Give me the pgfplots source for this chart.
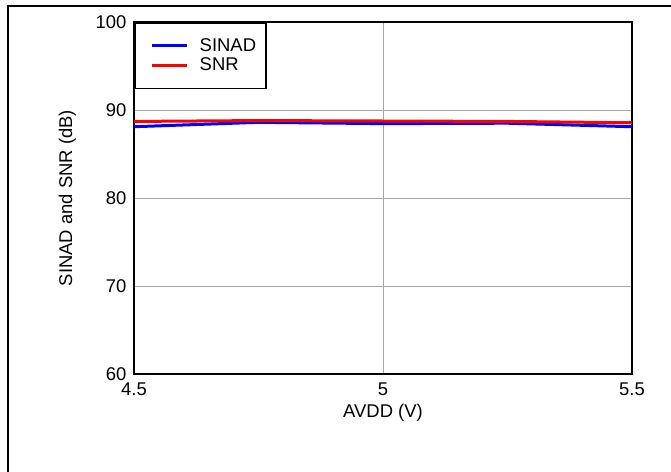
\documentclass[border=0pt]{standalone}
\usepackage{pgfplots}
\pgfplotsset{compat=1.18}
\usepackage{fontspec}
\setmainfont{Liberation Sans}

\newcommand{\chartfont}{\fontsize{18.5}{21}\selectfont}

\begin{document}
\begin{tikzpicture}[x=1bp,y=1bp]
    \useasboundingbox (0,0) rectangle (671,-472);
    % outer frame (right and bottom edges lie outside the page)
    \draw[line width=1.2bp] (8,-490) -- (8,-6) -- (690,-6);

    \begin{axis}[
        at={(134bp,-374bp)},
        anchor=south west,
        scale only axis,
        width=498bp,
        height=352bp,
        xmin=4.5, xmax=5.5,
        ymin=60, ymax=100,
        xtick={4.5,5,5.5},
        xticklabels={4.5,5,5.5},
        ytick={60,70,80,90,100},
        major tick length=0pt,
        grid=major,
        major grid style={color=black!35, line width=0.9bp},
        axis line style={line width=2.5bp},
        ticklabel style={font=\chartfont},
        /pgf/number format/assume math mode=true,
        xticklabel style={yshift=-5bp},
        yticklabel style={xshift=-4bp},
        label style={font=\chartfont},
        xlabel={AVDD (V)},
        ylabel={SINAD and SNR (dB)},
        xlabel style={yshift=-2bp},
        ylabel style={yshift=13bp},
        legend cell align=left,
        legend style={
            at={(0,1)}, anchor=north west,
            draw=black, line width=1.5bp,
            font=\chartfont,
            inner xsep=8bp, inner ysep=14bp,
            row sep=1bp,
        },
        legend image code/.code={
            \path[draw=none] (0bp,0bp) -- (55bp,0bp);
            \draw[#1] (9bp,0bp) -- (44bp,0bp);
        },
    ]

    \addplot[color=blue, line width=3bp] coordinates {
        (4.5,88.1) (4.75,88.6) (5.0,88.45) (5.25,88.5) (5.5,88.1)
    };
    \addlegendentry{SINAD}

    \addplot[color=red, line width=3bp] coordinates {
        (4.5,88.7) (4.75,88.8) (5.0,88.75) (5.25,88.7) (5.5,88.55)
    };
    \addlegendentry{SNR}

    \end{axis}
\end{tikzpicture}
\end{document}
